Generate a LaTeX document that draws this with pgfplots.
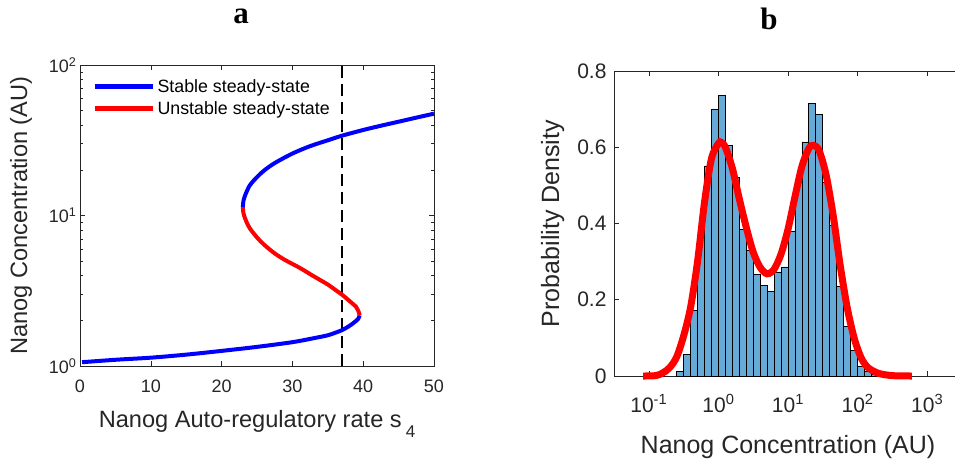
\documentclass[border=0pt]{standalone}
\usepackage{fontspec}
\setmainfont{Liberation Sans}
\newfontfamily\titlefont{Liberation Serif}
\usepackage{pgfplots}
\pgfplotsset{compat=1.18}
\usepackage{pgfplotstable}
\definecolor{mgray}{rgb}{0.15,0.15,0.15}
\definecolor{histfill}{RGB}{102,170,215}
\newcommand{\fs}[1]{\fontsize{#1}{#1}\selectfont}

\pgfplotstableread{
lx y
-0.6 0.012
-0.5 0.057
-0.4 0.171
-0.3 0.370
-0.2 0.551
-0.1 0.700
0.0 0.737
0.1 0.604
0.2 0.520
0.3 0.384
0.4 0.330
0.5 0.266
0.6 0.237
0.7 0.222
0.8 0.273
0.9 0.286
1.0 0.380
1.1 0.507
1.2 0.614
1.3 0.715
1.4 0.687
1.5 0.509
1.6 0.395
1.7 0.236
1.8 0.131
1.9 0.067
2.0 0.026
2.1 0.012
2.2 0.003
2.3 0.003
}\histdata

\pgfplotstableread{
lx y
-1.08 0.000
-0.90 0.001
-0.80 0.008
-0.70 0.022
-0.60 0.050
-0.50 0.105
-0.40 0.180
-0.30 0.300
-0.20 0.455
-0.10 0.570
0.00 0.610
0.04 0.613
0.10 0.600
0.20 0.545
0.30 0.465
0.40 0.390
0.50 0.325
0.60 0.285
0.70 0.268
0.80 0.280
0.90 0.320
1.00 0.385
1.10 0.470
1.20 0.550
1.30 0.597
1.37 0.605
1.45 0.590
1.55 0.525
1.65 0.420
1.75 0.290
1.85 0.180
1.95 0.100
2.05 0.048
2.15 0.022
2.30 0.007
2.50 0.001
2.78 0.000
}\fitdata

\begin{document}
\begin{tikzpicture}
\path[use as bounding box] (0pt,0pt) rectangle (955pt,-460pt);

% ---------------- panel a ----------------
\begin{axis}[
  name=a,
  at={(80pt,-366pt)}, anchor=south west,
  scale only axis, width=354pt, height=301pt,
  xmin=0, xmax=50, ymode=log, ymin=1, ymax=100,
  clip=false,
  xtick={0,10,20,30,40,50},
  xticklabels={0,10,20,30,40,50},
  ytick={1,10,100},
  yticklabels={10\textsuperscript{0},10\textsuperscript{1},10\textsuperscript{2}},
  tick align=inside,
  major tick length=5pt, minor tick length=3pt,
  axis line style={mgray, line width=0.8pt},
  every tick/.style={mgray, line width=0.6pt},
  tick label style={text=mgray, font=\fs{18}},
  xticklabel style={yshift=-10pt},
  title={\titlefont\bfseries a},
  title style={at={(axis description cs:0.455,1)}, anchor=base, yshift=36pt, font=\fs{31}, text=black},
  xlabel={Nanog Auto-regulatory rate s\,\raisebox{-10pt}{\fs{17}4}},
  xlabel style={at={(axis description cs:0.5,-0.2027)}, anchor=base, font=\fs{23.6}, text=mgray},
  ylabel={Nanog Concentration (AU)},
  ylabel style={at={(axis description cs:-0.1497,0.5)}, anchor=base, font=\fs{23.6}, text=mgray},
  legend style={draw=none, fill=none, at={(axis description cs:0.035,0.96)}, anchor=north west,
     font=\fs{17.8}, text=black, row sep=4pt, inner sep=0pt},
  legend cell align=left,
  legend image code/.code={\draw[#1, line width=5pt] (0pt,0pt) -- (58pt,0pt);},
]
\addplot[black, line width=1.6pt, dash pattern=on 12pt off 6pt, forget plot] coordinates {(37,1) (37,100)};
\addplot[blue, line width=4pt, smooth] coordinates {
(0.3,1.06) (5,1.10) (10,1.136) (15,1.19) (20,1.26) (25,1.34) (30,1.44) (33,1.53)
(35,1.60) (36,1.66) (37,1.73) (38,1.84) (38.8,1.96) (39.3,2.06) (39.5,2.17)};
\addlegendentry{Stable steady-state}
\addplot[red, line width=4pt, smooth] coordinates {
(39.5,2.17) (39.3,2.33) (39,2.47) (38,2.72) (37,2.98) (36,3.22) (35,3.48) (33,3.95)
(31,4.5) (29,5.05) (27.5,5.6) (26,6.4) (25,7.15) (24,8.2) (23.5,9.1) (23.1,10.3) (23.0,11.4)};
\addlegendentry{Unstable steady-state}
\addplot[blue, line width=4pt, smooth, forget plot] coordinates {
(23.0,11.4) (23.1,12.6) (23.4,13.9) (24,15.9) (25,18.0) (26,19.9) (27.5,22.3) (30,25.8)
(32.5,28.9) (35,31.6) (37,33.9) (40,37.0) (42.5,39.5) (45,42.0) (47.5,44.7) (50,47.5)};
\end{axis}

% ---------------- panel b ----------------
\begin{axis}[
  name=b,
  at={(614pt,-376pt)}, anchor=south west,
  scale only axis, width=348pt, height=305pt,
  xmode=log, xmin=0.0316228, xmax=3162.28, ymin=0, ymax=0.8,
  clip=false,
  xtick={0.1,1,10,100,1000},
  xticklabels={10\textsuperscript{-1},10\textsuperscript{0},10\textsuperscript{1},10\textsuperscript{2},10\textsuperscript{3}},
  xminorticks=false,
  ytick={0,0.2,0.4,0.6,0.8},
  yticklabels={0,0.2,0.4,0.6,0.8},
  ytick pos=left,
  tick align=inside,
  major tick length=5pt,
  axis line style={mgray, line width=0.8pt},
  every tick/.style={mgray, line width=0.6pt},
  tick label style={text=mgray, font=\fs{21}},
  xticklabel style={yshift=-15pt},
  yticklabel style={xshift=-4pt},
  title={\titlefont\bfseries b},
  title style={at={(axis description cs:0.445,1)}, anchor=base, yshift=36pt, font=\fs{31}, text=black},
  xlabel={Nanog Concentration (AU)},
  xlabel style={at={(axis description cs:0.5,-0.255)}, anchor=base, font=\fs{25}, text=mgray},
  ylabel={Probability Density},
  ylabel style={at={(axis description cs:-0.158,0.5)}, anchor=base, font=\fs{25}, text=mgray},
]
\addplot[ybar interval, fill=histfill, draw=black, line width=0.8pt] table[x expr={10^(\thisrow{lx})}, y=y] {\histdata};
\addplot[red, line width=7pt, smooth] table[x expr={10^(\thisrow{lx})}, y=y] {\fitdata};
\end{axis}
\end{tikzpicture}
\end{document}
